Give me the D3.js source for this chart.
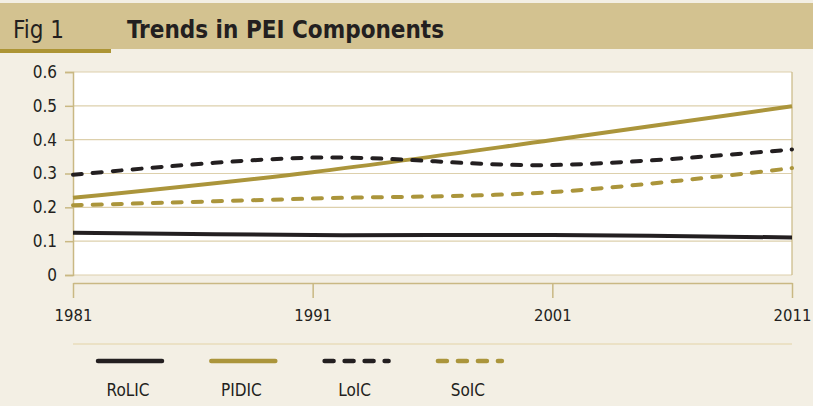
<!DOCTYPE html>
<html>
<head>
<meta charset="utf-8">
<script src="https://cdn.jsdelivr.net/npm/d3@7"></script>
<style>
  body { margin: 0; background: #f3efe4; }
  svg { display: block; font-family: "DejaVu Sans Condensed", "Open Sans", sans-serif; }
</style>
</head>
<body>
<div id="chart"></div>
<script>
// data
const years = [1981, 1991, 2001, 2011];
const rolic = [0.125, 0.118, 0.118, 0.111];
const pidic = [0.228, 0.304, 0.399, 0.499];
const loic  = [0.296, 0.347, 0.325, 0.371];
const soic  = [0.206, 0.226, 0.245, 0.316];
const yTicks = [0, 0.1, 0.2, 0.3, 0.4, 0.5, 0.6];

const dark = "#231f20", gold = "#ab953b", tan = "#c9b883";
const font = "'DejaVu Sans Condensed', 'Open Sans', sans-serif";

const series = [
    {name: "RoLIC", values: rolic, color: dark, dash: null},
    {name: "PIDIC", values: pidic, color: gold, dash: null},
    {name: "LoIC",  values: loic,  color: dark, dash: "9,11"},
    {name: "SoIC",  values: soic,  color: gold, dash: "9,11"}
];

const W = 813, H = 406;
const plot = {left: 73, right: 792, top: 72, bottom: 275};

let svg = d3.select("#chart").append("svg")
    .attr("width", W)
    .attr("height", H);

svg.append("rect").attr("width", W).attr("height", H).attr("fill", "#f3efe4");

// header band
svg.append("rect").attr("x", 0).attr("y", 3).attr("width", W).attr("height", 46).attr("fill", "#d3c290");
svg.append("rect").attr("x", 0).attr("y", 49).attr("width", 111).attr("height", 4).attr("fill", "#ad9535");
svg.append("text").attr("x", 13).attr("y", 38)
    .attr("font-size", 24).attr("fill", dark)
    .text("Fig 1");
svg.append("text").attr("x", 127).attr("y", 38)
    .attr("font-size", 24).attr("font-weight", "bold").attr("fill", dark)
    .text("Trends in PEI Components");

let x = d3.scaleLinear().domain([1981, 2011]).range([plot.left, plot.right]);
let y = d3.scaleLinear().domain([0, 0.6]).range([plot.bottom, plot.top]);

// plot area
svg.append("rect")
    .attr("x", plot.left).attr("y", plot.top)
    .attr("width", plot.right - plot.left).attr("height", plot.bottom - plot.top)
    .attr("fill", "#ffffff");

// gridlines
svg.append("g")
    .selectAll("line")
    .data(yTicks)
    .enter().append("line")
    .attr("x1", plot.left).attr("x2", plot.right)
    .attr("y1", d => y(d)).attr("y2", d => y(d))
    .attr("stroke", "#ddd0ac").attr("stroke-width", 1.2);

svg.append("line")
    .attr("x1", plot.right).attr("x2", plot.right)
    .attr("y1", plot.top).attr("y2", plot.bottom)
    .attr("stroke", tan).attr("stroke-width", 1.2);

// y axis
let yAxis = d3.axisLeft(y)
    .tickValues(yTicks)
    .tickSize(8)
    .tickPadding(8)
    .tickFormat(d => d === 0 ? "0" : d3.format(".1f")(d));

let gy = svg.append("g")
    .attr("transform", "translate(" + plot.left + ",0)")
    .call(yAxis);
gy.select(".domain").attr("stroke", tan).attr("stroke-width", 1.5);
gy.selectAll(".tick line").attr("stroke", tan).attr("stroke-width", 1.5);
gy.selectAll(".tick text")
    .attr("font-size", 17).attr("fill", dark)
    .attr("font-family", font);

// x axis, drawn as a bracket below the plot
let xAxis = d3.axisBottom(x)
    .tickValues(years)
    .tickFormat(d3.format("d"))
    .tickSizeInner(15)
    .tickSizeOuter(0)
    .tickPadding(11);

let gx = svg.append("g")
    .attr("transform", "translate(0,283)")
    .call(xAxis);
gx.select(".domain").attr("stroke", tan).attr("stroke-width", 1.5);
gx.selectAll(".tick line").attr("stroke", tan).attr("stroke-width", 1.5);
gx.selectAll(".tick text")
    .attr("font-size", 16.5).attr("fill", dark)
    .attr("font-family", font);

// lines
let line = d3.line()
    .x((d, i) => x(years[i]))
    .y(d => y(d))
    .curve(d3.curveCatmullRom.alpha(0.5));

svg.append("g")
    .selectAll("path")
    .data(series)
    .enter().append("path")
    .attr("d", d => line(d.values))
    .attr("fill", "none")
    .attr("stroke", d => d.color)
    .attr("stroke-width", 4)
    .attr("stroke-dasharray", d => d.dash)
    .attr("stroke-linecap", d => d.dash ? "round" : "butt");

// legend
svg.append("line")
    .attr("x1", 73).attr("x2", 792)
    .attr("y1", 344).attr("y2", 344)
    .attr("stroke", "#e3d3a6").attr("stroke-width", 1.2);

let legend = svg.append("g")
    .selectAll("g")
    .data(series)
    .enter().append("g")
    .attr("transform", (d, i) => "translate(" + (98 + i * 113.3) + ",361)");

legend.append("line")
    .attr("x1", 0).attr("x2", 64)
    .attr("stroke", d => d.color)
    .attr("stroke-width", 4.5)
    .attr("stroke-linecap", "round")
    .attr("stroke-dasharray", d => d.dash);

legend.append("text")
    .attr("x", 30).attr("y", 34.7)
    .attr("text-anchor", "middle")
    .attr("font-size", 17).attr("fill", dark)
    .text(d => d.name);
</script>
</body>
</html>
